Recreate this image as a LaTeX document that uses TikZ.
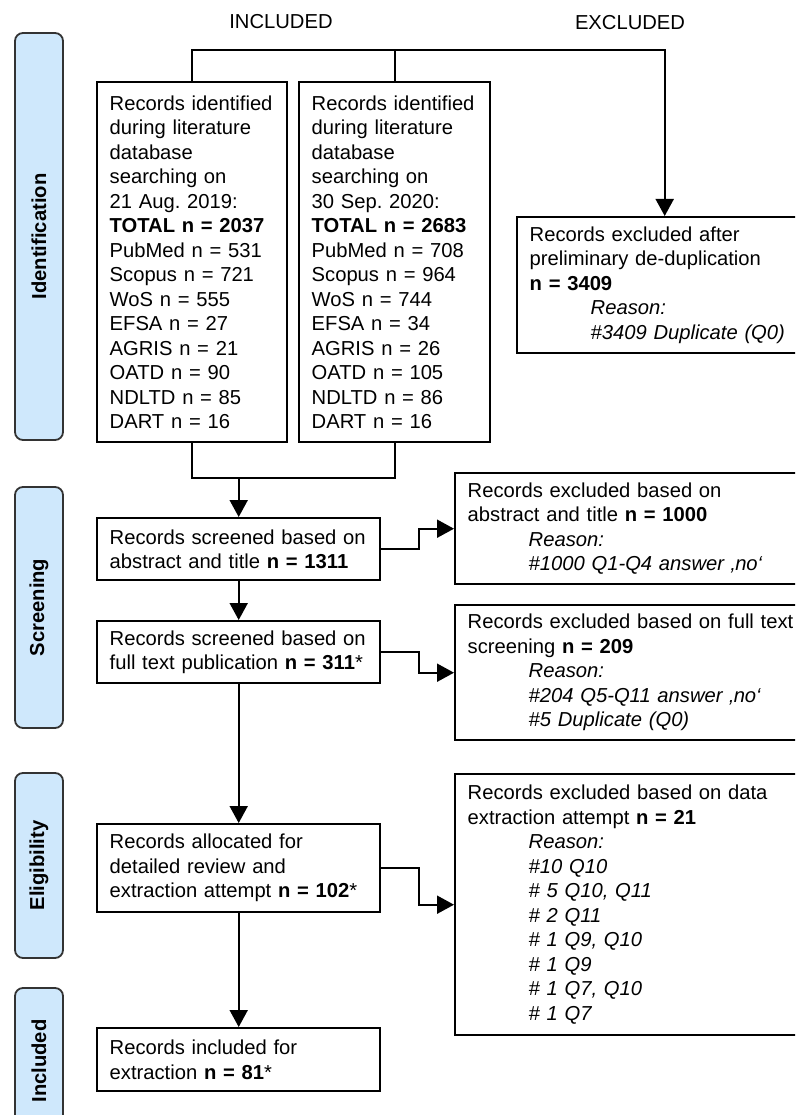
\documentclass[tikz,border=0pt]{standalone}
\usepackage{fontspec}
\setmainfont{Liberation Sans}
\usetikzlibrary{arrows.meta}
\definecolor{phaseblue}{RGB}{207,232,252}
\definecolor{phaseline}{RGB}{51,51,51}
\newcommand{\rsn}{\hspace*{61pt}}
\frenchspacing

\begin{document}
\begin{tikzpicture}[x=1pt,y=-1pt,line width=2pt,
  every node/.style={font=\fontsize{20.2}{24.5}\selectfont},
  box/.style={draw,line width=2.4pt,anchor=north west,align=left,inner xsep=12.5pt,inner ysep=0pt},
  phase/.style={draw=phaseline,fill=phaseblue,line width=1.8pt,rounded corners=8pt,rotate=90,
    font=\fontsize{20.2}{24.5}\selectfont\bfseries,minimum height=48pt},
  arr/.style={-{Triangle[width=18pt,length=17pt]}}]
        \useasboundingbox (0,0) rectangle (795,1115);
        \clip (0,0) rectangle (795,1115);
        \node (inclabel) at (281,22) {INCLUDED};
        \node (exclabel) at (630,23) {EXCLUDED};
        \node[phase,minimum width=407pt] (idphase) at (39,236.5) {Identification};
        \node[phase,minimum width=241pt] (scphase) at (39,607.5) {Screening};
        \node[phase,minimum width=185pt] (elphase) at (39,865.5) {Eligibility};
        \node[phase,minimum width=146pt] (inphase) at (39,1061) {Included};
        \node[box,text width=165pt,minimum height=360pt] (srch1) at (96,81) {Records identified\\during literature\\database\\searching on\\21 Aug. 2019:\\\textbf{TOTAL n = 2037}\\PubMed n = 531\\Scopus n = 721\\WoS n = 555\\EFSA n = 27\\AGRIS n = 21\\OATD n = 90\\NDLTD n = 85\\DART n = 16};
        \node[box,text width=166pt,minimum height=360pt] (srch2) at (298,81) {Records identified\\during literature\\database\\searching on\\30 Sep. 2020:\\\textbf{TOTAL n = 2683}\\PubMed n = 708\\Scopus n = 964\\WoS n = 744\\EFSA n = 34\\AGRIS n = 26\\OATD n = 105\\NDLTD n = 86\\DART n = 16};
        \node[box,text width=270pt,minimum height=136pt] (dedup) at (516,216) {Records excluded after\\preliminary de-duplication\\\textbf{n = 3409}\\\rsn\textit{Reason:}\\\rsn\textit{\#3409 Duplicate (Q0)}};
        \node[box,text width=258pt,minimum height=62pt] (scrabs) at (96,517) {Records screened based on\\abstract and title \textbf{n = 1311}};
        \node[box,text width=258pt,minimum height=62pt] (scrfull) at (96,620) {Records screened based on\\full text publication \textbf{n = 311}*};
        \node[box,text width=332pt,minimum height=111pt] (excabs) at (454,472) {Records excluded based on\\abstract and title \textbf{n = 1000}\\\rsn\textit{Reason:}\\\rsn\textit{\#1000 Q1-Q4 answer ‚no‘}};
        \node[box,text width=332pt,minimum height=135pt] (excfull) at (454,604) {Records excluded based on full text\\screening \textbf{n = 209}\\\rsn\textit{Reason:}\\\rsn\textit{\#204 Q5-Q11 answer ‚no‘}\\\rsn\textit{\#5 Duplicate (Q0)}};
        \node[box,text width=258pt,minimum height=88pt] (alloc) at (96,823) {Records allocated for\\detailed review and\\extraction attempt \textbf{n = 102}*};
        \node[box,text width=332pt,minimum height=261pt] (excdata) at (454,773) {Records excluded based on data\\extraction attempt \textbf{n = 21}\\\rsn\textit{Reason:}\\\rsn\textit{\#10 Q10}\\\rsn\textit{\# 5 Q10, Q11}\\\rsn\textit{\# 2 Q11}\\\rsn\textit{\# 1 Q9, Q10}\\\rsn\textit{\# 1 Q9}\\\rsn\textit{\# 1 Q7, Q10}\\\rsn\textit{\# 1 Q7}};
        \node[box,text width=258pt,minimum height=63pt] (incl) at (96,1027) {Records included for\\extraction \textbf{n = 81}*};
        \coordinate (split) at (0,50);
        \coordinate (merge) at (0,478);
        \draw[arr] (srch1.north) |- (split -| dedup.north) -- (dedup.north);
        \draw (srch2.north) -- (srch2.north |- split);
        \draw (srch1.south) |- (merge -| srch2.south) -- (srch2.south);
        \draw[arr] (merge -| scrabs.north) -- (scrabs.north);
        \draw[arr] (scrabs.south) -- (scrfull.north);
        \draw[arr] (scrfull.south) -- (alloc.north);
        \draw[arr] (alloc.south) -- (incl.north);
        \draw[arr] (scrabs.east) -- ++(38,0) |- (excabs.west);
        \draw[arr] (scrfull.east) -- ++(38,0) |- (excfull.west);
        \draw[arr] (alloc.east) -- ++(38,0) |- (excdata.west);
\end{tikzpicture}
\end{document}
